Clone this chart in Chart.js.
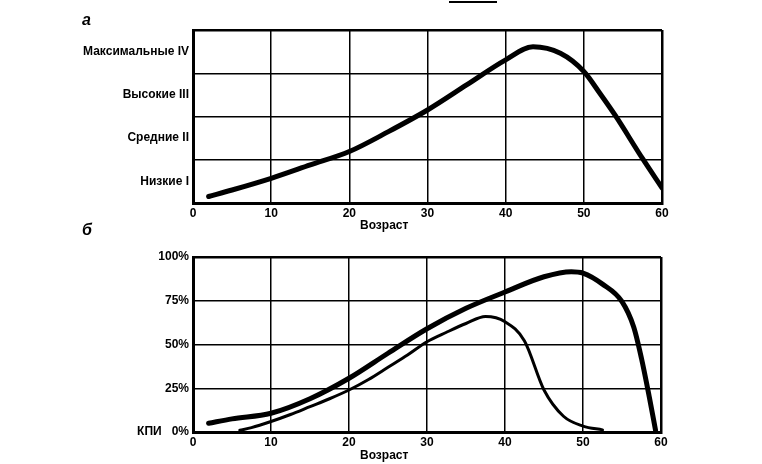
<!DOCTYPE html>
<html>
<head>
<meta charset="utf-8">
<script src="https://cdn.jsdelivr.net/npm/chart.js@4.4.1/dist/chart.umd.min.js"></script>
<style>
  body { margin: 0; background: #fff; }
  #wrap { position: relative; width: 762px; height: 464px; font-family: "Liberation Sans", Arial, sans-serif; font-weight: bold; color: #000; }
  canvas { position: absolute; left: 0; }
  .lbl { position: absolute; font-size: 12px; line-height: 13px; white-space: nowrap; }
</style>
</head>
<body>
<div id="wrap">
  <canvas id="chartA" width="762" height="235" style="top:0"></canvas>
  <canvas id="chartB" width="762" height="229" style="top:235px"></canvas>
  <div class="lbl" style="left:82px;top:12px;font-size:16px;line-height:16px;font-style:italic">а</div>
  <div class="lbl" style="left:82px;top:222px;font-size:16px;line-height:16px;font-style:italic">б</div>
  <div class="lbl" style="left:360px;top:219px">Возраст</div>
  <div class="lbl" style="left:360px;top:449px">Возраст</div>
  <div style="position:absolute;left:449px;top:1px;width:48px;height:2px;background:#000"></div>
</div>
<script>
// --- chart a: level by age ---
const levelAges = [2, 5, 10, 15, 20, 25, 30, 35, 40, 43.5, 47, 50, 52, 54, 57.5, 60];
const levelValues = [0.15, 0.3, 0.57, 0.88, 1.19, 1.65, 2.15, 2.73, 3.31, 3.61, 3.46, 3.04, 2.55, 2.03, 1.03, 0.35];
const levelNames = ['Низкие I', 'Средние II', 'Высокие III', 'Максимальные IV'];

// --- chart b: percent by age ---
const thickAges = [2, 5, 10, 15, 20, 25, 30, 35, 40, 45, 48.5, 50, 52.5, 55, 56.5, 57.5, 58.5, 59.3];
const thickValues = [5, 7.5, 10.7, 19, 30.7, 45, 59, 70.7, 80, 88.7, 91.6, 90.8, 84.5, 74.5, 60, 42, 20, 1];
const thinAges = [6, 7.5, 10, 12.5, 15, 17.5, 20, 22.5, 25, 27.5, 30, 32.5, 35, 37.5, 40, 42.5, 45, 47.5, 50, 52.5];
const thinValues = [1, 2.5, 6, 10, 14.5, 19, 24, 30, 37, 44, 51.6, 57, 62, 66, 63, 52, 24, 9, 3.4, 1.2];
const percentTicks = [0, 25, 50, 75, 100];

const ageTicks = [0, 10, 20, 30, 40, 50, 60];

const toPoints = (xs, ys) => xs.map((x, i) => ({ x: x, y: ys[i] }));
const tickFont = { family: '"Liberation Sans", Arial, sans-serif', size: 12, weight: 'bold' };

function xScale(height) {
    return {
        type: 'linear',
        min: 0,
        max: 60,
        afterBuildTicks: s => { s.ticks = ageTicks.map(v => ({ value: v })); },
        grid: {
            color: '#000',
            lineWidth: c => (c.tick && (c.tick.value === 0 || c.tick.value === 60)) ? 2.5 : 1.5,
            drawTicks: false
        },
        border: { color: '#000', width: 3 },
        ticks: { color: '#000', font: tickFont, padding: 3, maxRotation: 0 },
        afterFit: s => { s.height = height; }
    };
}

function curve(points, width) {
    return {
        data: points,
        borderColor: '#000',
        borderWidth: width,
        borderCapStyle: 'round',
        borderJoinStyle: 'round',
        pointRadius: 0,
        cubicInterpolationMode: 'monotone'
    };
}

new Chart(document.getElementById('chartA'), {
    type: 'line',
    data: {
        datasets: [curve(toPoints(levelAges, levelValues), 5)]
    },
    options: {
        responsive: false,
        animation: false,
        layout: { padding: { top: 30, right: 100, left: 0, bottom: 0 } },
        plugins: { legend: { display: false }, tooltip: { enabled: false } },
        scales: {
            x: xScale(32),
            y: {
                min: 0,
                max: 4,
                afterBuildTicks: s => {
                    s.ticks = [0, 0.5, 1, 1.5, 2, 2.5, 3, 3.5, 4].map(v => ({ value: v }));
                },
                grid: {
                    color: c => (c.tick && Number.isInteger(c.tick.value)) ? '#000' : 'rgba(0,0,0,0)',
                    lineWidth: c => (c.tick && c.tick.value === 4) ? 2.5 : 1.5,
                    drawTicks: false
                },
                border: { color: '#000', width: 3 },
                ticks: {
                    color: '#000',
                    font: tickFont,
                    padding: 4,
                    autoSkip: false,
                    callback: v => Number.isInteger(v) ? '' : levelNames[Math.floor(v)]
                },
                afterFit: s => { s.width = 193; }
            }
        }
    }
});

new Chart(document.getElementById('chartB'), {
    type: 'line',
    data: {
        datasets: [
            curve(toPoints(thickAges, thickValues), 5),
            curve(toPoints(thinAges, thinValues), 3)
        ]
    },
    options: {
        responsive: false,
        animation: false,
        layout: { padding: { top: 22, right: 101, left: 0, bottom: 0 } },
        plugins: { legend: { display: false }, tooltip: { enabled: false } },
        scales: {
            x: xScale(32),
            y: {
                min: 0,
                max: 100,
                afterBuildTicks: s => { s.ticks = percentTicks.map(v => ({ value: v })); },
                grid: {
                    color: '#000',
                    lineWidth: c => (c.tick && c.tick.value === 100) ? 2.5 : 1.5,
                    drawTicks: false
                },
                border: { color: '#000', width: 3 },
                ticks: {
                    color: '#000',
                    font: tickFont,
                    padding: 4,
                    callback: v => v === 0 ? 'КПИ   0%' : v + '%'
                },
                afterFit: s => { s.width = 193; }
            }
        }
    }
});
</script>
</body>
</html>
